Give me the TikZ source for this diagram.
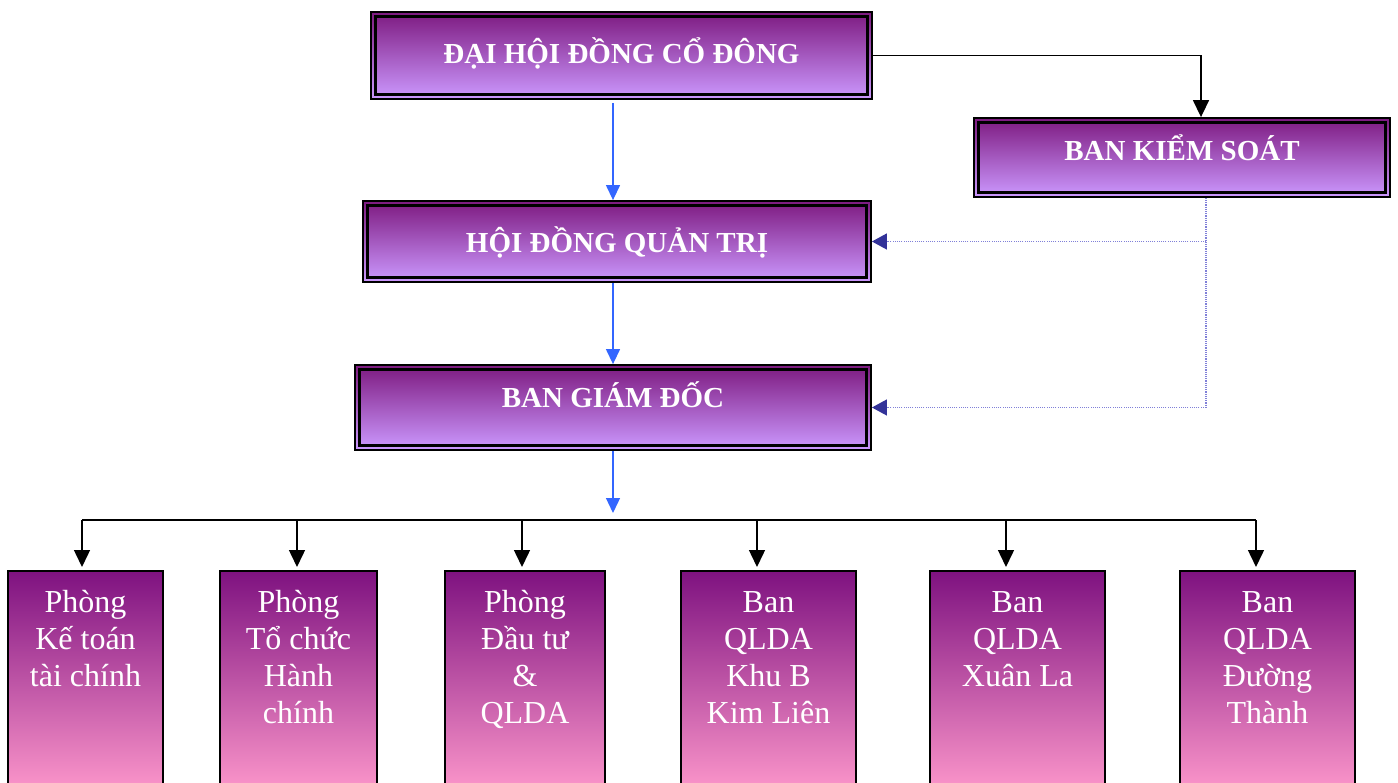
\documentclass[tikz,border=0pt]{standalone}
\usepackage{fontspec}
\setmainfont{Liberation Serif}
\usetikzlibrary{arrows.meta,calc}
\definecolor{topdark}{HTML}{7D1A80}
\definecolor{toplight}{HTML}{CC99FF}
\definecolor{botdark}{HTML}{7E1280}
\definecolor{botlight}{HTML}{FF99CC}
\definecolor{bluearrow}{HTML}{3366FF}
\definecolor{dotcol}{HTML}{8080D8}
\definecolor{dottip}{HTML}{333399}
\newcommand{\bottxt}[1]{\parbox[c][225pt][t]{150pt}{\centering\rule{0pt}{42pt}#1}}
\begin{document}
\begin{tikzpicture}[x=1pt,y=-1pt,
  topbox/.style={draw=black, line width=1.8pt,
    top color=topdark, bottom color=toplight, inner sep=0pt,
    path picture={\draw[black, line width=2.4pt]
      ([shift={(4.6pt,-4.6pt)}]path picture bounding box.north west) rectangle
      ([shift={(-4.6pt,4.6pt)}]path picture bounding box.south east);},
    text=white, font=\fontsize{29}{34}\selectfont\bfseries, text height=19pt, text depth=0pt},
  botbox/.style={draw=black, line width=1.8pt, top color=botdark, bottom color=botlight,
    inner sep=0pt, text=white, font=\fontsize{32}{37}\selectfont, anchor=north},
  bluearr/.style={draw=bluearrow, line width=1.3pt, -{Triangle[length=15pt,width=14pt]}},
  blkarr/.style={draw=black, line width=1.5pt, -{Triangle[length=17pt,width=16pt]}},
  busline/.style={draw=black, line width=1.6pt},
  dotline/.style={draw=dotcol, line width=1.2pt, dash pattern=on 1.1pt off 1.1pt},
  dotarr/.style={dotline, -{Triangle[length=15pt,width=16pt,color=dottip,fill=dottip]}}
]
\useasboundingbox (0,0) rectangle (1398,783);
\clip (0,0) rectangle (1398,783);

% top boxes
\node[topbox, minimum width=501pt, minimum height=87pt] (b1) at (621.5,55.5)
  {\raisebox{1.5pt}{ĐẠI HỘI ĐỒNG CỔ ĐÔNG}};
\node[topbox, minimum width=416pt, minimum height=79pt] (b2) at (1182,157.5)
  {\raisebox{6.5pt}{BAN KIỂM SOÁT}};
\node[topbox, minimum width=508pt, minimum height=81pt] (b3) at (617,241.5)
  {\raisebox{-1.5pt}{HỘI ĐỒNG QUẢN TRỊ}};
\node[topbox, minimum width=516pt, minimum height=85pt] (b4) at (613,407.5)
  {\raisebox{9.5pt}{BAN GIÁM ĐỐC}};

% bottom boxes
\node[botbox, minimum width=155pt] (p1) at (85.5,570) {\bottxt{Phòng\\Kế toán\\tài chính}};
\node[botbox, minimum width=157pt] (p2) at (298.5,570) {\bottxt{Phòng\\Tổ chức\\Hành\\chính}};
\node[botbox, minimum width=160pt] (p3) at (525,570) {\bottxt{Phòng\\Đầu tư\\\&\\QLDA}};
\node[botbox, minimum width=175pt] (p4) at (768.5,570) {\bottxt{Ban\\QLDA\\Khu B\\Kim Liên}};
\node[botbox, minimum width=175pt] (p5) at (1017.5,570) {\bottxt{Ban\\QLDA\\Xuân La}};
\node[botbox, minimum width=175pt] (p6) at (1267.5,570) {\bottxt{Ban\\QLDA\\Đường\\Thành}};

% helper coordinates
\coordinate (cx) at (613,0);
\coordinate (kx) at (1201,0);
\coordinate (dx) at (1206,0);
\coordinate (busend) at (613,513);
\coordinate (t1) at (82,520);
\coordinate (t2) at (297,520);
\coordinate (t3) at (522,520);
\coordinate (t4) at (757,520);
\coordinate (t5) at (1006,520);
\coordinate (t6) at (1256,520);

% blue vertical arrows
\draw[bluearr, shorten <=3pt] (b1.south -| cx) -- (b3.north -| cx);
\draw[bluearr] (b3.south -| cx) -- (b4.north -| cx);
\draw[bluearr] (b4.south -| cx) -- (busend);

% to Ban kiem soat
\draw[blkarr] (b1.east) -- (b1.east -| kx) -- (b2.north -| kx);

% dotted control lines
\draw[dotline] (b2.south -| dx) -- (dx |- b4.east);
\draw[dotarr] (dx |- b3.east) -- (b3.east);
\draw[dotarr] (dx |- b4.east) -- (b4.east);

% bus and department arrows
\draw[busline] (t1) -- (t6);
\draw[blkarr, shorten >=3pt] (t1) -- (p1.north -| t1);
\draw[blkarr, shorten >=3pt] (t2) -- (p2.north -| t2);
\draw[blkarr, shorten >=3pt] (t3) -- (p3.north -| t3);
\draw[blkarr, shorten >=3pt] (t4) -- (p4.north -| t4);
\draw[blkarr, shorten >=3pt] (t5) -- (p5.north -| t5);
\draw[blkarr, shorten >=3pt] (t6) -- (p6.north -| t6);
\end{tikzpicture}
\end{document}
